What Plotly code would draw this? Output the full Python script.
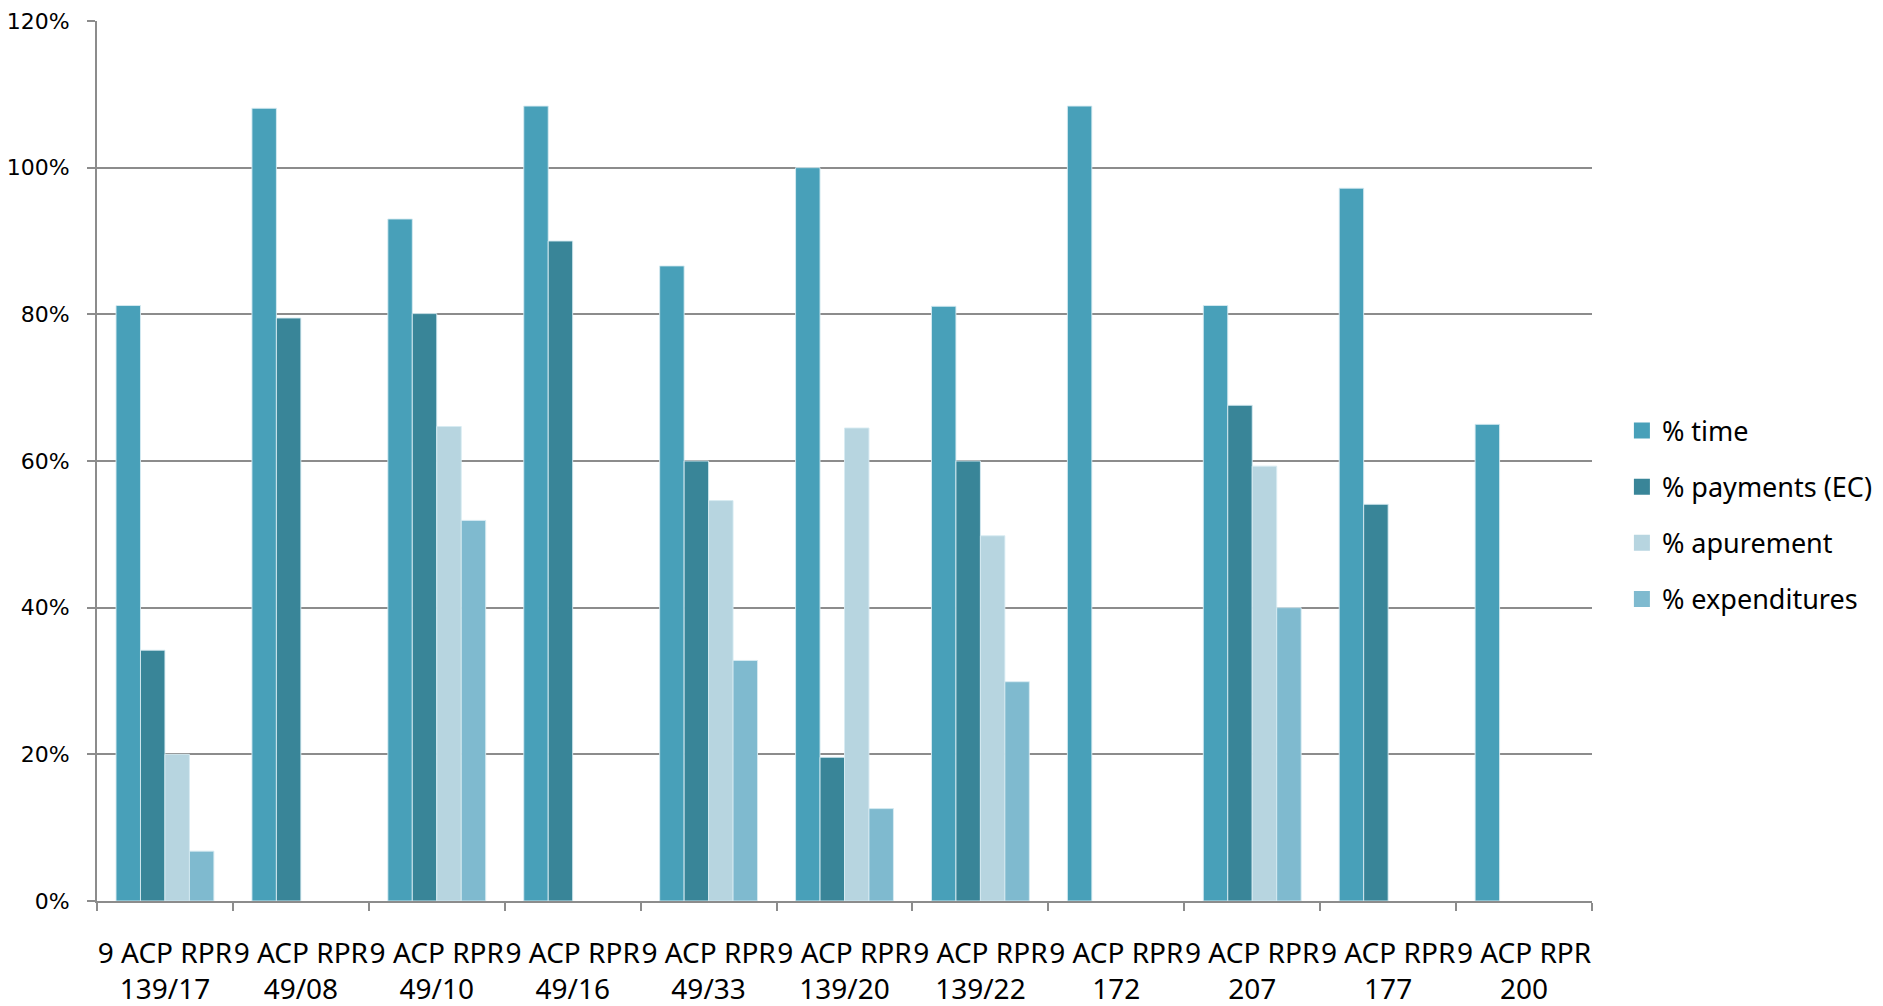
import plotly.graph_objects as go

# Project codes (two-line category labels)
line1 = ["9 ACP RPR"] * 11
line2 = ["139/17", "49/08", "49/10", "49/16", "49/33", "139/20",
         "139/22", "172", "207", "177", "200"]
categories = [f"{a}<br>{b}" for a, b in zip(line1, line2)]

# Percent values per project
pct_time = [81.2, 108.1, 93.0, 108.4, 86.6, 100.0, 81.1, 108.4, 81.2, 97.2, 65.0]
pct_payments = [34.2, 79.5, 80.1, 90.0, 60.0, 19.6, 60.0, None, 67.6, 54.1, None]
pct_apurement = [20.0, None, 64.7, None, 54.6, 64.5, 49.8, None, 59.3, None, None]
pct_expenditures = [6.8, None, 51.9, None, 32.8, 12.6, 29.9, None, 40.0, None, None]

y_ticks = [0, 20, 40, 60, 80, 100, 120]
y_tick_labels = ["0%", "20%", "40%", "60%", "80%", "100%", "120%"]

series = [
    ("% time", pct_time, "#48A0B9"),
    ("% payments (EC)", pct_payments, "#398598"),
    ("% apurement", pct_apurement, "#B7D5E0"),
    ("% expenditures", pct_expenditures, "#7FBACF"),
]

fig = go.Figure()
for name, vals, color in series:
    fig.add_trace(go.Bar(
        x=categories, y=vals, name=name, showlegend=False,
        marker=dict(color=color, line=dict(color="rgba(215,235,242,0.9)", width=1)),
    ))
    # square legend swatch
    fig.add_trace(go.Scatter(
        x=[None], y=[None], mode="markers", name=name, legendgroup=name,
        marker=dict(symbol="square", size=18, color=color),
    ))

grid = "#8C8C8C"
fig.update_layout(
    width=1883, height=1006,
    margin=dict(l=97, r=291, t=21, b=105, autoexpand=False),
    paper_bgcolor="white", plot_bgcolor="white",
    barmode="group", bargap=0.28, bargroupgap=0,
    font=dict(family="Noto Sans", color="black"),
    legend=dict(
        x=1.02, xanchor="left", y=0.4386, yanchor="middle",
        font=dict(family="Noto Sans", size=27, color="black"),
        tracegroupgap=18, traceorder="grouped",
        bgcolor="rgba(0,0,0,0)",
    ),
    xaxis=dict(
        type="category", showgrid=False, automargin=False, tickangle=0,
        showline=True, linecolor=grid, linewidth=2,
        ticks="outside", tickson="boundaries", ticklen=8, tickcolor=grid, tickwidth=1.5,
        tickfont=dict(family="Noto Sans", size=28, color="black"),
        ticklabelstandoff=26,
    ),
    yaxis=dict(
        range=[0, 120], tickvals=y_ticks, ticktext=y_tick_labels, automargin=False,
        showgrid=True, gridcolor=grid, gridwidth=1.5,
        showline=True, linecolor=grid, linewidth=2,
        ticks="outside", ticklen=8, tickcolor=grid, tickwidth=1.5,
        tickfont=dict(family="DejaVu Sans", size=22, color="black"),
        ticklabelstandoff=13, zeroline=False,
    ),
)

fig.write_html("out.html")
